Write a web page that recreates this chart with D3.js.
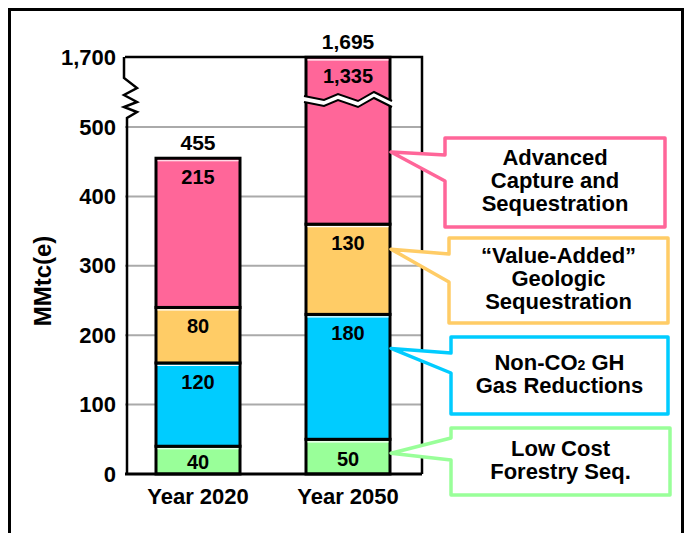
<!DOCTYPE html>
<html lang="en">
<head>
<meta charset="UTF-8">
<title>Carbon sequestration</title>
<script src="https://cdn.jsdelivr.net/npm/d3@7/dist/d3.min.js"></script>
<style>
    body{ margin:0; background:#fff; }
    text{ font-family: Arial, "Liberation Sans", sans-serif; font-weight: bold; fill:#000; }
    .grid line{ stroke:#aaa; stroke-width:2; }
</style>
</head>
<body>
<div id="container"></div>
<script>
// data
var categories = ["Year 2020", "Year 2050"]
var forestry   = [40, 50]
var nonCO2     = [120, 180]
var valueAdded = [80, 130]
var advanced   = [215, 1335]
var totals     = [455, 1695]
var yTicks     = [0, 100, 200, 300, 400, 500, 1700]
var gridTicks  = [0, 100, 200, 300, 400, 500]
var seriesKeys = ["forestry", "nonCO2", "valueAdded", "advanced"]
var seriesColors = ["#99ff99", "#00ccff", "#ffcc66", "#ff6699"]
// callout text, one entry per series
var calloutLines = [
    ["Low Cost", "Forestry Seq."],
    ["Non-CO|2| GH", "Gas Reductions"],
    ["\u201cValue-Added\u201d", "Geologic", "Sequestration"],
    ["Advanced", "Capture and", "Sequestration"]
]
// value (on y scale) where each callout pointer hits the 2050 bar
var calloutAnchor = [30, 181, 324, 464]

let width = 686
let height = 533

let svg = d3.select("#container").append("svg")
    .attr("width", width).attr("height", height)

// outer frame (no bottom edge visible)
svg.append("path")
    .attr("d", "M9.5,560 V9.5 H682.5 V560")
    .attr("fill", "none").attr("stroke", "#000").attr("stroke-width", 3)

let table = categories.map((c, i) => ({
    cat: c, forestry: forestry[i], nonCO2: nonCO2[i], valueAdded: valueAdded[i], advanced: advanced[i]
}))
let stacked = d3.stack().keys(seriesKeys)(table)

// broken axis: 0-500 linear, then 500-1700 squeezed
let yScale = d3.scaleLinear().domain([0, 500, 1700]).range([474, 127, 57])
let xScale = d3.scaleBand().domain(categories).range([123, 423])
    .paddingInner(0.44).paddingOuter(0.22)

let pLeft = 125, pRight = 422, pTop = yScale(1700), pBottom = yScale(0)

// grid
svg.append("g").attr("class", "grid")
    .selectAll("line").data(gridTicks).enter().append("line")
    .attr("x1", pLeft).attr("x2", pRight)
    .attr("y1", d => yScale(d)).attr("y2", d => yScale(d))

// plot frame top + right
svg.append("path")
    .attr("d", `M${pLeft},${pTop} H${pRight} V${pBottom}`)
    .attr("fill", "none").attr("stroke", "#000").attr("stroke-width", 2.5)

// y axis with zigzag break
let z0 = 78, z1 = 118
let zig = `M${pLeft - 1},${pTop} V${z0} L${pLeft + 12},${z0 + 10} L${pLeft - 1},${z0 + 17} L${pLeft + 12},${z0 + 24} L${pLeft - 1},${z0 + 29} L${pLeft + 12},${z0 + 34} L${pLeft + 2},${z1} V${pBottom}`
svg.append("path").attr("d", zig)
    .attr("fill", "none").attr("stroke", "#000").attr("stroke-width", 2.5)

let yAxis = d3.axisLeft(yScale).tickValues(yTicks).tickSize(0).tickPadding(8)
    .tickFormat(d3.format(","))
let yg = svg.append("g").attr("transform", `translate(${pLeft - 1},0)`).call(yAxis)
yg.select(".domain").remove()
yg.selectAll("text").style("font-size", "22px").attr("font-family", null)

// bars
let bars = svg.append("g")
let bw = xScale.bandwidth()
stacked.forEach((layer, si) => {
    layer.forEach((d, ci) => {
        let x = xScale(d.data.cat)
        let y0 = yScale(d[0]), y1 = yScale(d[1])
        bars.append("rect")
            .attr("x", x).attr("y", y1)
            .attr("width", bw).attr("height", y0 - y1)
            .attr("fill", seriesColors[si])
            .attr("stroke", "#000").attr("stroke-width", 3)
        if (d[1] < 1700) {
            bars.append("line")
                .attr("x1", x + 1.5).attr("x2", x + bw - 1.5)
                .attr("y1", y1 + 2.5).attr("y2", y1 + 2.5)
                .attr("stroke", "#fff").attr("stroke-width", 1.2)
        }
    })
})

// break on the 2050 bar
let bx = xScale("Year 2050")
let brk = [[bx - 2, 96], [bx + 18, 100], [bx + 32, 94], [bx + 52, 101], [bx + 68, 92], [bx + bw + 2, 101]]
let brkLow = brk.map(p => [p[0], p[1] + 6])
let band = brk.concat(brkLow.slice().reverse())
svg.append("path").attr("d", "M" + band.join("L") + "Z").attr("fill", "#fff")
let ln = d3.line()
svg.append("path").attr("d", ln(brk)).attr("fill", "none").attr("stroke", "#000").attr("stroke-width", 2)
svg.append("path").attr("d", ln(brkLow)).attr("fill", "none").attr("stroke", "#000").attr("stroke-width", 2)

// segment value labels
stacked.forEach(layer => {
    layer.forEach((d, ci) => {
        let y0 = yScale(d[0]), y1 = yScale(d[1])
        let h = y0 - y1
        let cy = h < 45 ? (y0 + y1) / 2 + 2 : y1 + 19
        svg.append("text")
            .attr("x", xScale(d.data.cat) + bw / 2).attr("y", cy)
            .attr("text-anchor", "middle").attr("dominant-baseline", "central")
            .style("font-size", "20px")
            .text(d3.format(",")(d[1] - d[0]))
    })
})

// totals
totals.forEach((t, i) => {
    svg.append("text")
        .attr("x", xScale(categories[i]) + bw / 2)
        .attr("y", Math.max(yScale(t), 57) - 16)
        .attr("text-anchor", "middle").attr("dominant-baseline", "central")
        .style("font-size", "21px")
        .text(d3.format(",")(t))
})

// x axis
svg.append("line").attr("x1", pLeft).attr("x2", pRight)
    .attr("y1", pBottom).attr("y2", pBottom)
    .attr("stroke", "#000").attr("stroke-width", 3)
let xAxis = d3.axisBottom(xScale).tickSize(0).tickPadding(14)
let xg = svg.append("g").attr("transform", `translate(0,${pBottom})`).call(xAxis)
xg.select(".domain").remove()
xg.selectAll("text").style("font-size", "22px").attr("font-family", null)

// y title
svg.append("text")
    .attr("transform", "translate(42,281) rotate(-90)")
    .attr("text-anchor", "middle").attr("dominant-baseline", "central")
    .style("font-size", "24px")
    .text("MMtc(e)")

// callouts
let boxes = [
    { x: 451, y: 428, w: 219, h: 67, a1: 438, a2: 460 },
    { x: 451, y: 337, w: 217, h: 77, a1: 353, a2: 373 },
    { x: 449, y: 238, w: 219, h: 85, a1: 254, a2: 282 },
    { x: 445, y: 138, w: 220, h: 89, a1: 155, a2: 181 }
]
let tipX = bx + bw + 1
boxes.forEach((b, i) => {
    let ty = yScale(calloutAnchor[i])
    let pts = [[b.x, b.y], [b.x + b.w, b.y], [b.x + b.w, b.y + b.h], [b.x, b.y + b.h],
               [b.x, b.a2], [tipX, ty], [b.x, b.a1]]
    svg.append("path").attr("d", "M" + pts.join("L") + "Z")
        .attr("fill", "#fff").attr("stroke", seriesColors[i])
        .attr("stroke-width", 3.5).attr("stroke-linejoin", "round")
    let lines = calloutLines[i]
    let cy = b.y + b.h / 2 - (lines.length - 1) * 23 / 2 - 2.5
    lines.forEach((l, k) => {
        let t = svg.append("text")
            .attr("x", b.x + b.w / 2).attr("y", cy + k * 23)
            .attr("text-anchor", "middle").attr("dominant-baseline", "central")
            .style("font-size", "22px")
        l.split("|").forEach((part, pi) => {
            let s = t.append("tspan").text(part)
            if (pi === 1) s.style("font-size", "14px").attr("dy", 3)
            if (pi === 2) s.attr("dy", -3)
        })
    })
})
</script>
</body>
</html>
